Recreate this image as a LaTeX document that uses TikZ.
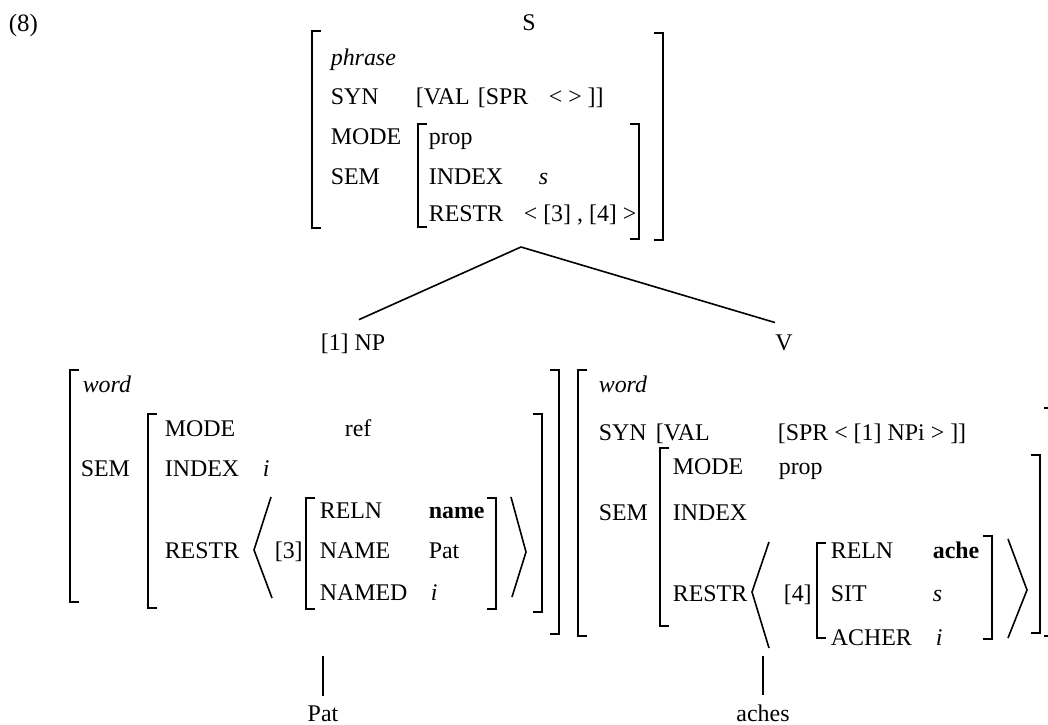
\documentclass[tikz,border=0pt]{standalone}
\usepackage{fontspec}
\setmainfont{Liberation Serif}
\newcommand\brL[3]{\draw (#1+9,#2) -- (#1,#2) -- (#1,#3) -- (#1+9,#3);}
\newcommand\brR[3]{\draw (#1-9,#2) -- (#1,#2) -- (#1,#3) -- (#1-9,#3);}
\begin{document}
\begin{tikzpicture}[x=1bp,y=-1bp,line width=1.6bp,
  t/.style={anchor=base west,inner sep=0pt,font=\fontsize{24}{28}\selectfont},
  tc/.style={t,anchor=base}]
\useasboundingbox (0,0) rectangle (1048,725);
% label
\node[t,font=\fontsize{25}{29}\selectfont] (ex) at (8,32) {(8)};
% ---------- top AVM ----------
\node[tc] (S) at (529,31) {S};
\brL{312}{31}{228}
\brR{663}{33}{240}
\node[t] (tphr) at (330,66) {\textit{phrase}};
\node[t] (tsyn) at (330,105) {SYN};
\node[t] (tval) at (415,105) {[VAL};
\node[t] (tspr) at (477,105) {[SPR};
\node[t] (tlist) at (548,105) {< > ]]};
\node[t] (tmode) at (330,145) {MODE};
\brL{418}{124}{227}
\brR{639}{124}{239}
\node[t] (tprop) at (428,145) {prop};
\node[t] (tsem) at (330,185) {SEM};
\node[t] (tidx) at (428,185) {INDEX};
\node[t] (ts) at (538,185) {\textit{s}};
\node[t] (trestr) at (428,221) {RESTR};
\node[t] (trl) at (523,221) {< [3] , [4] >};
% ---------- tree ----------
\coordinate (apex) at (521,247);
\node[t] (np) at (320,350) {[1] NP};
\node[tc] (v) at (784,350) {V};
\draw (apex) -- ([xshift=6bp,yshift=13bp]np.north);
\draw (apex) -- ([xshift=-9bp,yshift=11bp]v.north);
% ---------- left AVM ----------
\brL{70}{370}{602}
\brR{559}{370}{634}
\node[t] (lword) at (82,392) {\textit{word}};
\node[t] (lsem) at (80,476) {SEM};
\brL{148}{414}{608}
\brR{542}{414}{612}
\node[t] (lmode) at (164,436) {MODE};
\node[t] (lref) at (344,436) {ref};
\node[t] (lidx) at (164,476) {INDEX};
\node[t] (li) at (262,476) {\textit{i}};
\node[t] (lrestr) at (164,558) {RESTR};
\draw (271,497) -- (254,550) -- (272,598);
\node[t] (l3) at (274,558) {[3]};
\brL{306}{498}{609}
\brR{496}{498}{609}
\node[t] (lreln) at (319,518) {RELN};
\node[t] (lname) at (428,518) {\textbf{name}};
\node[t] (lNAME) at (319,558) {NAME};
\node[t] (lpat) at (428,558) {Pat};
\node[t] (lnamed) at (319,600) {NAMED};
\node[t] (li2) at (430,600) {\textit{i}};
\draw (511,497) -- (526,552) -- (512,597);
% ---------- right AVM ----------
\brL{578}{370}{636}
\brR{1053}{408}{636}
\node[t] (rword) at (598,392) {\textit{word}};
\node[t] (rsyn) at (598,440) {SYN};
\node[t] (rval) at (655,440) {[VAL};
\node[t] (rspr) at (777,440) {[SPR < [1] NPi > ]]};
\node[t] (rsem) at (598,520) {SEM};
\brL{660}{448}{626}
\brR{1040}{455}{633}
\node[t] (rmode) at (672,474) {MODE};
\node[t] (rprop) at (778,474) {prop};
\node[t] (ridx) at (672,520) {INDEX};
\node[t] (rrestr) at (672,601) {RESTR};
\draw (769,542) -- (752,592) -- (769,648);
\node[t] (r4) at (783,601) {[4]};
\brL{817}{543}{638}
\brR{992}{536}{639}
\node[t] (rreln) at (830,558) {RELN};
\node[t] (rache) at (932,558) {\textbf{ache}};
\node[t] (rsit) at (830,601) {SIT};
\node[t] (rs) at (932,601) {\textit{s}};
\node[t] (racher) at (830,645) {ACHER};
\node[t] (ri) at (935,645) {\textit{i}};
\draw (1008,539) -- (1027,590) -- (1008,638);
% ---------- leaves ----------
\node[tc] (pat) at (323,721) {Pat};
\node[tc] (aches) at (763,721) {aches};
\coordinate (patUp) at (323,656);
\coordinate (achesUp) at (763,656);
\draw (patUp) -- ([yshift=9bp]pat.north);
\draw (achesUp) -- ([yshift=9bp]aches.north);
\end{tikzpicture}
\end{document}
